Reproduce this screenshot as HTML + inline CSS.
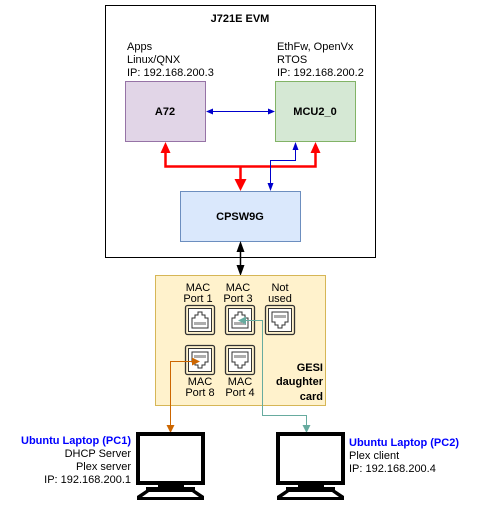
<!DOCTYPE html>
<html><head><style>body{margin:0;background:#fff}svg{display:block}text{font-family:"Liberation Sans",sans-serif;font-size:11px}</style></head><body>
<svg width="481" height="508" viewBox="0 0 481 508">
<defs>
<g id="port"><rect x="0.5" y="0.5" width="29" height="29" rx="2" fill="none" stroke="#333" stroke-width="1.3"/><rect x="3.5" y="3.5" width="23" height="23" fill="#fff" stroke="#333"/></g>
<g id="jackup"><path d="M7,23 V13 H10 V10 H13 V7 H17 V10 H20 V13 H23 V23 Z" fill="none" stroke="#333"/><path d="M10,20 v-3 M12,20 v-3 M14,20 v-3 M16,20 v-3 M18,20 v-3 M20,20 v-3" stroke="#333" stroke-width="0.8"/></g>
<g id="jackdn"><path d="M7,7 V17 H10 V20 H13 V23 H17 V20 H20 V17 H23 V7 Z" fill="none" stroke="#333"/><path d="M10,10 v3 M12,10 v3 M14,10 v3 M16,10 v3 M18,10 v3 M20,10 v3" stroke="#333" stroke-width="0.8"/></g>
<g id="pc"><rect x="2" y="2" width="65" height="49" fill="#fff" stroke="#000" stroke-width="4"/><rect x="22" y="51" width="26" height="5" fill="#000"/><path d="M10,55 H59 V58 L68,64 V68 H1 V64 L10,58 Z" fill="#000"/><path d="M13,60 H56 L63,65 H6 Z" fill="#fff"/></g>
</defs>
<rect x="105.5" y="5.5" width="270" height="252" fill="#fff" stroke="#000"/>
<text x="240" y="22" text-anchor="middle" font-weight="bold" font-size="12">J721E EVM</text>
<text x="127" y="50">Apps</text><text x="127" y="63">Linux/QNX</text><text x="127" y="76">IP: 192.168.200.3</text>
<text x="277" y="50">EthFw, OpenVx</text><text x="277" y="63">RTOS</text><text x="277" y="76">IP: 192.168.200.2</text>
<rect x="125.5" y="81.5" width="80" height="60" fill="#e1d5e7" stroke="#9673a6"/>
<text x="165" y="115" text-anchor="middle" font-weight="bold" font-size="12">A72</text>
<rect x="275.5" y="81.5" width="80" height="60" fill="#d5e8d4" stroke="#82b366"/>
<text x="315" y="115" text-anchor="middle" font-weight="bold" font-size="12">MCU2_0</text>
<rect x="180.5" y="191.5" width="120" height="50" fill="#dae8fc" stroke="#6c8ebf"/>
<text x="240" y="220" text-anchor="middle" font-weight="bold" font-size="12">CPSW9G</text>
<line x1="212" y1="111.5" x2="270" y2="111.5" stroke="#0000cc" stroke-width="1"/>
<path d="M206,111.5 l7,-3 v6z M275,111.5 l-7,-3 v6z" fill="#0000cc"/>
<path d="M165.5,152 V166.5 H315.5 V152 M240.5,166.5 V182" fill="none" stroke="#ff0000" stroke-width="2.5"/>
<path d="M165.5,142 l-5,11 h10z M315.5,142 l-5,11 h10z M240.5,191 l-6,-12 h12z" fill="#ff0000"/>
<path d="M295.5,148 V160.5 H270.5 V185" fill="none" stroke="#0000cc"/>
<path d="M295.5,142 l-3,8 h6z M270.5,191 l-3,-8 h6z" fill="#0000cc"/>
<line x1="240.5" y1="250" x2="240.5" y2="267" stroke="#000" stroke-width="1.5"/>
<path d="M240.5,241 l-4,11 h8z M240.5,276 l-4,-11 h8z" fill="#000"/>
<rect x="155.5" y="275.5" width="170" height="130" fill="#fff2cc" stroke="#d6b656"/>
<g font-size="8.5" text-anchor="middle"><text x="198" y="291">MAC</text><text x="198" y="302">Port 1</text><text x="238" y="291">MAC</text><text x="238" y="302">Port 3</text><text x="280" y="291">Not</text><text x="280" y="302">used</text>
<text x="200" y="385">MAC</text><text x="200" y="396">Port 8</text><text x="240" y="385">MAC</text><text x="240" y="396">Port 4</text></g>
<g transform="translate(185,305)"><use href="#port"/><use href="#jackup"/></g>
<g transform="translate(225,305)"><use href="#port"/><use href="#jackup"/></g>
<g transform="translate(265,305)"><use href="#port"/><use href="#jackdn"/></g>
<g transform="translate(185,345)"><use href="#port"/><use href="#jackdn"/></g>
<g transform="translate(225,345)"><use href="#port"/><use href="#jackdn"/></g>
<g font-weight="bold" text-anchor="end"><text x="323" y="371">GESI</text><text x="323" y="385">daughter</text><text x="323" y="400">card</text></g>
<path d="M195,361.5 H170.5 V426" fill="none" stroke="#cc6600"/>
<path d="M200,361.5 l-8,-4 v8z M170.5,433 l-4,-8 h8z" fill="#cc6600"/>
<path d="M245,320.5 H262.5 V415.5 H306.5 V426" fill="none" stroke="#67ab9f"/>
<path d="M238,320.5 l8,-4 v8z M306.5,433 l-4,-8 h8z" fill="#67ab9f"/>
<g transform="translate(136,432)"><use href="#pc"/></g>
<g transform="translate(276,432)"><use href="#pc"/></g>
<g text-anchor="end"><text x="131" y="444" fill="#0000ff" font-weight="bold">Ubuntu Laptop (PC1)</text><text x="131" y="457">DHCP Server</text><text x="131" y="470">Plex server</text><text x="131" y="483">IP: 192.168.200.1</text></g>
<text x="349" y="446" fill="#0000ff" font-weight="bold">Ubuntu Laptop (PC2)</text><text x="349" y="459">Plex client</text><text x="349" y="472">IP: 192.168.200.4</text>
</svg>
</body></html>
